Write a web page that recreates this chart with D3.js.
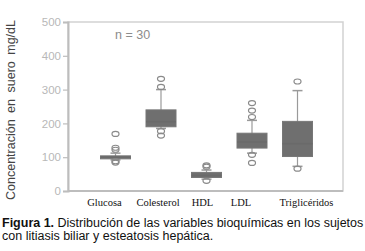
<!DOCTYPE html>
<html><head><meta charset="utf-8">
<script src="https://cdn.jsdelivr.net/npm/d3@7"></script>
<style>
body{margin:0;background:#fff;}
svg{display:block;}
</style></head>
<body>
<svg id="chart" width="365" height="251"></svg>
<script>
// ---- data ----
const categories = ["Glucosa","Colesterol","HDL","LDL","Triglicéridos"];
const q1 =        [96, 190, 40, 127, 102];
const median =    [100, 205, 46, 145, 140];
const q3 =        [104, 240, 55, 171, 206];
const whiskLow =  [92, 185, 35, 112, 73];
const whiskHigh = [112, 300, 62, 209, 297];
const outliers = [
  [169, 128, 122, 88, 84],
  [332, 308, 177, 164],
  [76, 72, 30],
  [260, 238, 219, 107, 83],
  [324, 66]
];
const yTicks = [0, 100, 200, 300, 400, 500];
const labelDx = [-11, -3, -4, -11, 9];

// ---- layout ----
const svg = d3.select("#chart");
const pL = 68, pR = 343, pT = 22, pB = 191;
const x = d3.scalePoint().domain(categories).range([70, 343]).padding(1);
const y = d3.scaleLinear().domain([0, 500]).range([pB, pT]);
const boxW = 30, capW = 10;

// frame
svg.append("rect").attr("x", pL).attr("y", pT).attr("width", pR - pL).attr("height", pB - pT)
  .attr("fill", "none").attr("stroke", "#d2d2d2").attr("stroke-width", 1.5);

// y axis
const yAxis = svg.append("g").attr("transform", `translate(${pL},0)`)
  .call(d3.axisLeft(y).tickValues(yTicks).tickSize(5).tickPadding(2));
yAxis.select(".domain").attr("stroke", "#bdbdbd").attr("stroke-width", 2);
yAxis.selectAll(".tick line").attr("stroke", "#bdbdbd").attr("stroke-width", 1.2);
yAxis.selectAll(".tick text").attr("fill", "#b8b8b8").attr("font-family", "Liberation Sans, Arial, sans-serif").attr("font-size", 11.5);

// bottom axis line
svg.append("line").attr("x1", pL).attr("x2", pR).attr("y1", pB).attr("y2", pB)
  .attr("stroke", "#bdbdbd").attr("stroke-width", 2);

// boxes
const g = svg.append("g");
categories.forEach((c, i) => {
  const cx = x(c);
  g.append("line").attr("x1", cx).attr("x2", cx).attr("y1", y(whiskLow[i])).attr("y2", y(whiskHigh[i]))
    .attr("stroke", "#9a9a9a").attr("stroke-width", 1.2);
  [whiskLow[i], whiskHigh[i]].forEach(v => {
    g.append("line").attr("x1", cx - capW / 2).attr("x2", cx + capW / 2).attr("y1", y(v)).attr("y2", y(v))
      .attr("stroke", "#9a9a9a").attr("stroke-width", 1.5);
  });
  g.append("rect").attr("x", cx - boxW / 2).attr("width", boxW)
    .attr("y", y(q3[i])).attr("height", Math.max(y(q1[i]) - y(q3[i]), 3))
    .attr("fill", "#6f6f6f").attr("stroke", "#777").attr("stroke-width", 1);
  g.append("line").attr("x1", cx - boxW / 2).attr("x2", cx + boxW / 2).attr("y1", y(median[i])).attr("y2", y(median[i]))
    .attr("stroke", "#6a6a6a").attr("stroke-width", 1.5);
  outliers[i].forEach(v => {
    g.append("ellipse").attr("cx", cx).attr("cy", y(v)).attr("rx", 3.5).attr("ry", 2.5)
      .attr("fill", "none").attr("stroke", "#8a8a8a").attr("stroke-width", 1.2);
  });
});

// category labels
categories.forEach((c, i) => {
  svg.append("text").attr("x", x(c) + labelDx[i]).attr("y", 206).attr("text-anchor", "middle")
    .attr("font-family", "Liberation Serif, Times New Roman, serif").attr("font-size", 10.5).attr("fill", "#111")
    .text(c);
});

// n = 30
svg.append("text").attr("x", 115).attr("y", 39).attr("font-family", "Liberation Sans, Arial, sans-serif")
  .attr("font-size", 12.5).attr("fill", "#8c8c8c").text("n = 30");

// y title
svg.append("text").attr("transform", "translate(15,110) rotate(-90)").attr("text-anchor", "middle")
  .attr("font-family", "Liberation Sans, Arial, sans-serif").attr("font-size", 12.5).attr("fill", "#444")
  .attr("word-spacing", 3).text("Concentración en suero mg/dL");

// caption
const cap = svg.append("text").attr("font-family", "Liberation Sans, Arial, sans-serif").attr("font-size", 12.5).attr("fill", "#111");
cap.append("tspan").attr("x", 2).attr("y", 227).attr("font-weight", "bold").text("Figura 1.");
cap.append("tspan").text(" Distribución de las variables bioquímicas en los sujetos");
cap.append("tspan").attr("x", 2).attr("y", 240).text("con litiasis biliar y esteatosis hepática.");
</script>
</body></html>
